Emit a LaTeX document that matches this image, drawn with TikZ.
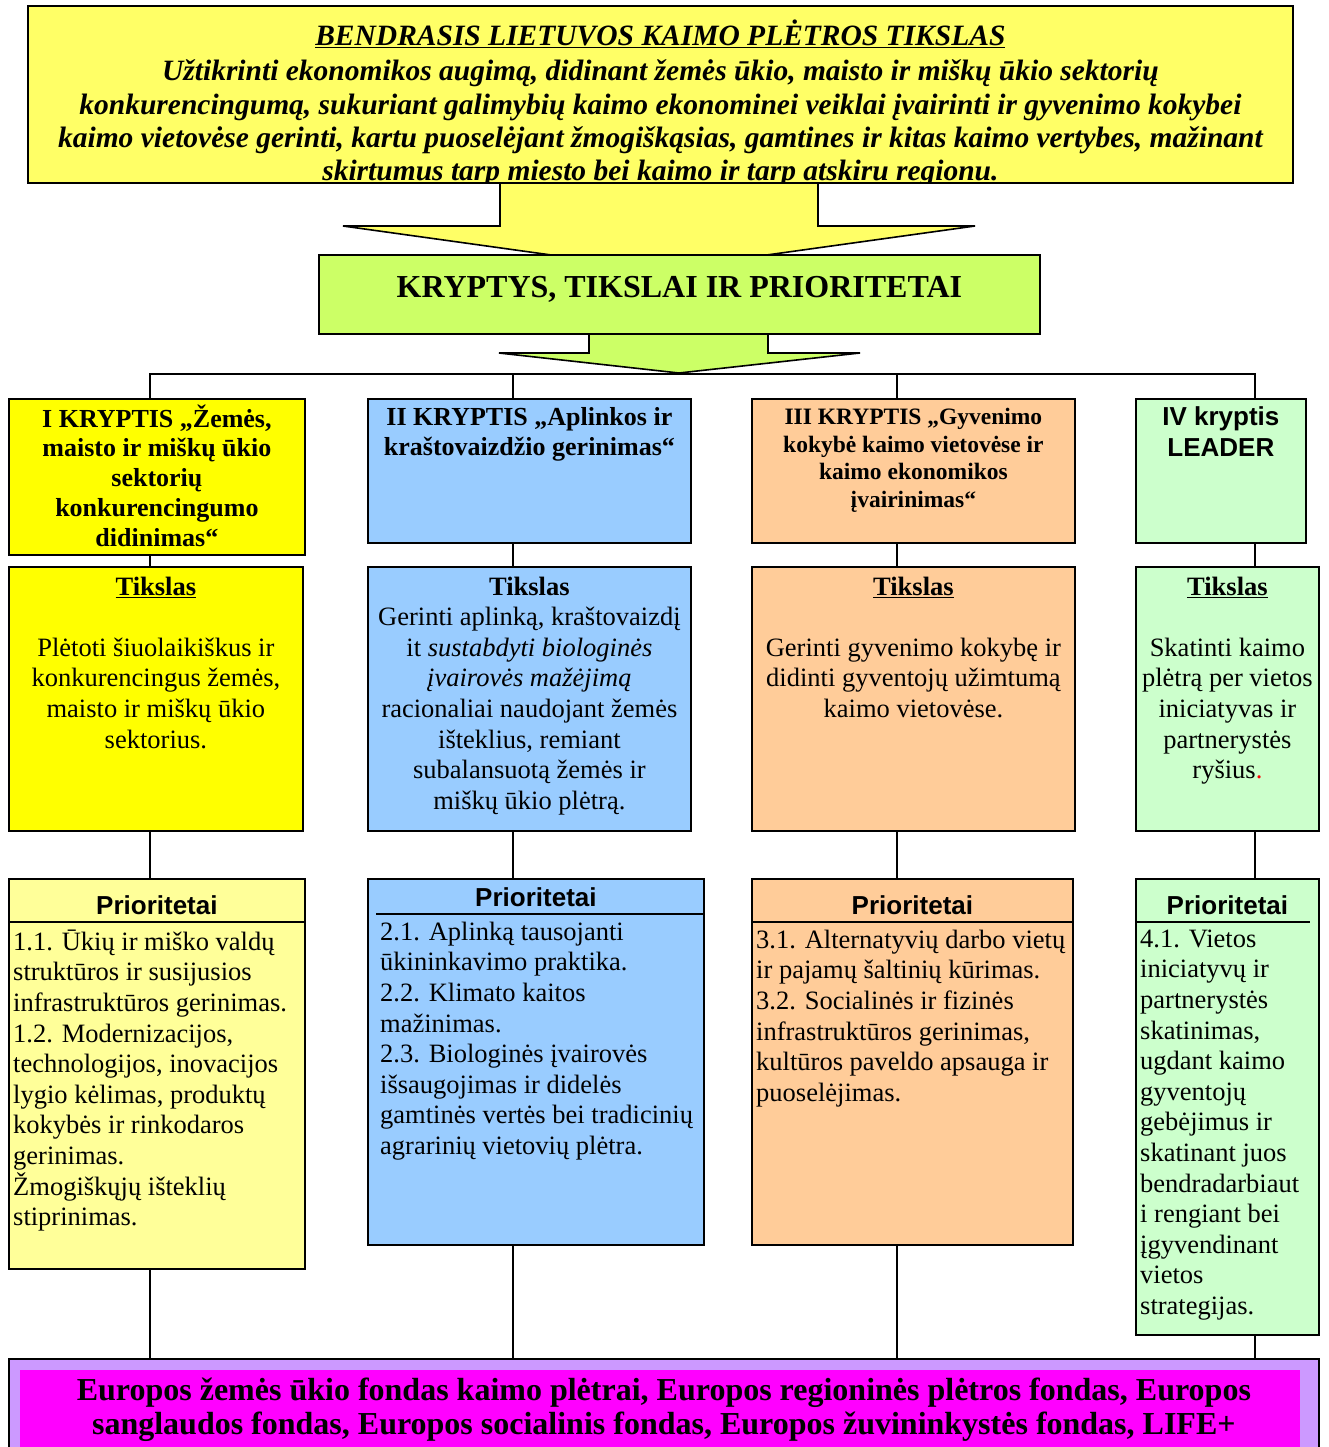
\documentclass[tikz,border=0pt]{standalone}
\usepackage{fontspec}
\setmainfont{Liberation Serif}
\newfontfamily\arialfont{Liberation Sans}
\usetikzlibrary{positioning}

\definecolor{topyellow}{HTML}{FFFF66}
\definecolor{kgreen}{HTML}{CCFF66}
\definecolor{kyellow}{HTML}{FFFF00}
\definecolor{pyellow}{HTML}{FFFF99}
\definecolor{kblue}{HTML}{99CCFF}
\definecolor{korange}{HTML}{FFCC99}
\definecolor{kmint}{HTML}{CCFFCC}
\definecolor{flilac}{HTML}{CC99FF}
\definecolor{fmagenta}{HTML}{FF00FF}

\tikzset{
  frame/.style={draw, line width=1.8pt, anchor=north west, inner sep=0pt},
  link/.style={line width=1.6pt},
  headrule/.style={line width=2pt},
  ktitle/.style={align=center, inner sep=0pt, font=\bfseries\fontsize{26}{30}\selectfont, execute at begin node=\strut},
  tgoal/.style={align=center, inner sep=0pt, font=\fontsize{26.5}{30.6}\selectfont, execute at begin node=\strut},
  phead/.style={inner sep=0pt, font=\arialfont\bfseries\fontsize{26}{30.6}\selectfont, execute at begin node=\strut},
  plist/.style={align=left, inner sep=0pt, font=\fontsize{26.5}{30.6}\selectfont, execute at begin node=\strut}
}

\begin{document}
\begin{tikzpicture}[x=1pt,y=-1pt]
  \useasboundingbox (0,0) rectangle (1328,1447);

  % column lines and bus
  \coordinate (c1) at (150,0);
  \coordinate (c2) at (513,0);
  \coordinate (c3) at (897,0);
  \coordinate (c4) at (1255,0);
  \coordinate (bus) at (679,374);

  % big arrows (drawn first, boxes go over them)
  \draw[line width=1.6pt, fill=topyellow] (500,182) -- (500,226) -- (343,226) -- (659,270) -- (975,226) -- (818,226) -- (818,182);
  \draw[line width=1.6pt, fill=kgreen] (589,333) -- (589,353) -- (499,353) -- (679,373) -- (860,353) -- (768,353) -- (768,333);

  % general goal
  \node[frame, fill=topyellow, minimum width=1265pt, minimum height=177pt] (top) at (27,5) {};
  \begin{scope}
    \clip (top.north west) rectangle (top.south east);
    \node[align=center, inner sep=0pt, font=\bfseries\itshape\fontsize{29.5}{33.3}\selectfont, execute at begin node=\strut, below=15pt of top.north] (toptxt)
      {\underline{BENDRASIS LIETUVOS KAIMO PLĖTROS TIKSLAS}\\[1.7pt]
       Užtikrinti ekonomikos augimą, didinant žemės ūkio, maisto ir miškų ūkio  sektorių\\
       konkurencingumą, sukuriant galimybių kaimo ekonominei veiklai įvairinti ir gyvenimo kokybei\\
       kaimo vietovėse gerinti, kartu puoselėjant žmogiškąsias, gamtines ir kitas kaimo vertybes, mažinant\\
       skirtumus tarp miesto bei kaimo ir tarp atskiru regionu.};
  \end{scope}

  \node[frame, fill=kgreen, minimum width=721pt, minimum height=79pt] (krypt) at (318,254) {};
  \node[anchor=base, inner sep=0pt, font=\bfseries\fontsize{32}{36}\selectfont] (krypttxt) at ([yshift=-3.1pt]krypt.center) {KRYPTYS, TIKSLAI IR PRIORITETAI};

  % kryptys
  \node[frame, fill=kyellow, minimum width=296pt, minimum height=156pt] (k1) at (8,398) {};
  \node[frame, fill=kblue, minimum width=323pt, minimum height=144pt] (k2) at (367,398) {};
  \node[frame, fill=korange, minimum width=323pt, minimum height=144pt] (k3) at (751,398) {};
  \node[frame, fill=kmint, minimum width=170pt, minimum height=144pt] (k4) at (1135,398) {};

  % connectors from the bus
  \draw[link] (c1 |- k1.north) |- (bus) -| (c4 |- k4.north);
  \draw[link] (c2 |- bus) -- (c2 |- k2.north);
  \draw[link] (c3 |- bus) -- (c3 |- k3.north);

  % tikslai
  \node[frame, fill=kyellow, minimum width=294pt, minimum height=264pt] (t1) at (8,566) {};
  \node[frame, fill=kblue, minimum width=323pt, minimum height=264pt] (t2) at (367,566) {};
  \node[frame, fill=korange, minimum width=323pt, minimum height=264pt] (t3) at (751,566) {};
  \node[frame, fill=kmint, minimum width=183pt, minimum height=264pt] (t4) at (1135,566) {};

  % prioritetai
  \node[frame, fill=pyellow, minimum width=296pt, minimum height=390pt] (p1) at (8,878) {};
  \node[frame, fill=kblue, minimum width=336pt, minimum height=366pt] (p2) at (367,878) {};
  \node[frame, fill=korange, minimum width=321pt, minimum height=366pt] (p3) at (751,878) {};
  \node[frame, fill=kmint, minimum width=183pt, minimum height=456pt] (p4) at (1135,878) {};

  % funds
  \node[frame, fill=flilac, minimum width=1310pt, minimum height=100pt] (fund) at (8,1358) {};
  \node[anchor=north west, inner sep=0pt, fill=fmagenta, minimum width=1280pt, minimum height=90pt] (fundin) at (20,1370) {};

  \foreach \i in {1,...,4} {
    \draw[link] (c\i |- k\i.south) -- (c\i |- t\i.north);
    \draw[link] (c\i |- t\i.south) -- (c\i |- p\i.north);
    \draw[link] (c\i |- p\i.south) -- (c\i |- fund.north);
  }

  % texts of kryptys
  \node[ktitle, font=\bfseries\fontsize{26}{29.7}\selectfont, below=6.5pt of k1.north] (k1txt) {I KRYPTIS „Žemės,\\maisto ir miškų ūkio\\sektorių\\konkurencingumo\\didinimas“};
  \node[ktitle, below=9.5pt of k2.north] (k2txt) {II KRYPTIS „Aplinkos ir\\kraštovaizdžio gerinimas“};
  \node[ktitle, font=\bfseries\fontsize{23.5}{27.6}\selectfont, below=10pt of k3.north] (k3txt) {III KRYPTIS „Gyvenimo\\kokybė kaimo vietovėse ir\\kaimo ekonomikos\\įvairinimas“};
  \node[ktitle, font=\arialfont\bfseries\fontsize{26}{31}\selectfont, below=8pt of k4.north] (k4txt) {IV kryptis\\LEADER};

  % texts of tikslai
  \node[tgoal, below=10.6pt of t1.north] (t1txt) {\textbf{\underline{Tikslas}}\\[30.6pt]Plėtoti šiuolaikiškus ir\\konkurencingus žemės,\\maisto ir miškų ūkio\\sektorius.};
  \node[tgoal, below=10.6pt of t2.north] (t2txt) {\textbf{Tikslas}\\Gerinti aplinką, kraštovaizdį\\it \textit{sustabdyti biologinės}\\\textit{įvairovės mažėjimą}\\racionaliai naudojant žemės\\išteklius, remiant\\subalansuotą žemės ir\\miškų ūkio plėtrą.};
  \node[tgoal, below=10.6pt of t3.north] (t3txt) {\textbf{\underline{Tikslas}}\\[30.6pt]Gerinti gyvenimo kokybę ir\\didinti gyventojų užimtumą\\kaimo vietovėse.};
  \node[tgoal, below=10.6pt of t4.north] (t4txt) {\textbf{\underline{Tikslas}}\\[30.6pt]Skatinti kaimo\\plėtrą per vietos\\iniciatyvas ir\\partnerystės\\ryšius{\color{red}.}};

  % texts of prioritetai
  \node[phead, below=15.3pt of p1.north] (p1head) {Prioritetai};
  \node[phead, below=7.3pt of p2.north] (p2head) {Prioritetai};
  \node[phead, below=15.3pt of p3.north] (p3head) {Prioritetai};
  \node[phead, below=15.3pt of p4.north] (p4head) {Prioritetai};
  \draw[headrule] ([yshift=-44pt]p1.north west) -- ([yshift=-44pt]p1.north east);
  \draw[headrule] ([xshift=9pt,yshift=-36pt]p2.north west) -- ([yshift=-36pt]p2.north east);
  \draw[headrule] ([yshift=-44pt]p3.north west) -- ([yshift=-44pt]p3.north east);
  \draw[headrule] ([yshift=-44pt]p4.north west) -- ([xshift=-10pt,yshift=-44pt]p4.north east);

  \node[plist, below right=51.6pt and 5pt of p1.north west] (p1txt) {1.1. Ūkių ir miško valdų\\struktūros ir susijusios\\infrastruktūros gerinimas.\\1.2. Modernizacijos,\\technologijos, inovacijos\\lygio kėlimas, produktų\\kokybės ir rinkodaros\\gerinimas.\\Žmogiškųjų išteklių\\stiprinimas.};
  \node[plist, below right=43.6pt and 13pt of p2.north west] (p2txt) {2.1. Aplinką tausojanti\\ūkininkavimo praktika.\\2.2. Klimato kaitos\\mažinimas.\\2.3. Biologinės įvairovės\\išsaugojimas ir didelės\\gamtinės vertės bei tradicinių\\agrarinių vietovių plėtra.};
  \node[plist, below right=51.6pt and 5pt of p3.north west] (p3txt) {3.1. Alternatyvių darbo vietų\\ir pajamų šaltinių kūrimas.\\3.2. Socialinės ir fizinės\\infrastruktūros gerinimas,\\kultūros paveldo apsauga ir\\puoselėjimas.};
  \node[plist, below right=51.6pt and 5pt of p4.north west] (p4txt) {4.1. Vietos\\iniciatyvų ir\\partnerystės\\skatinimas,\\ugdant kaimo\\gyventojų\\gebėjimus ir\\skatinant juos\\bendradarbiaut\\i rengiant bei\\įgyvendinant\\vietos\\strategijas.};

  % funds text
  \node[align=center, inner sep=0pt, font=\bfseries\fontsize{32}{34}\selectfont, execute at begin node=\strut, below=20pt of fund.north] (fundtxt)
    {Europos žemės ūkio fondas kaimo plėtrai, Europos regioninės plėtros fondas, Europos\\sanglaudos fondas, Europos socialinis fondas, Europos žuvininkystės fondas, LIFE+};
\end{tikzpicture}
\end{document}
